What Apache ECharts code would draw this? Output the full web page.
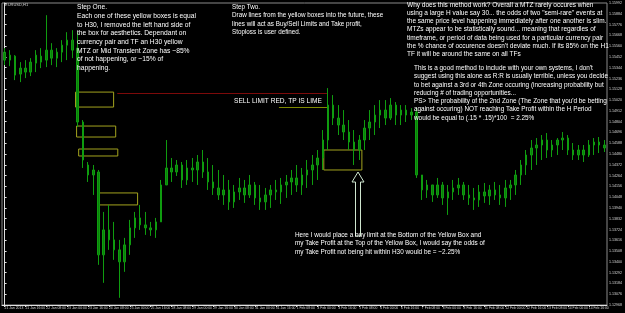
<!DOCTYPE html>
<html><head><meta charset="utf-8">
<script src="https://cdn.jsdelivr.net/npm/echarts@6/dist/echarts.min.js"></script>
<style>html,body{margin:0;padding:0;background:#000;}#c{width:625px;height:313px;}</style>
</head><body><div id="c"></div>
<script>
const timeLabels = ["21 Jan 2013","21 Jan 16:00","22 Jan 08:00","23 Jan 00:00","23 Jan 16:00","24 Jan 08:00","25 Jan 00:00","25 Jan 16:00","28 Jan 08:00","29 Jan 00:00","29 Jan 16:00","30 Jan 08:00","31 Jan 00:00","31 Jan 16:00","1 Feb 08:00","4 Feb 00:00","4 Feb 16:00","5 Feb 08:00","6 Feb 00:00","6 Feb 16:00","7 Feb 08:00","8 Feb 00:00","8 Feb 16:00","11 Feb 08:00","12 Feb 00:00","12 Feb 16:00","13 Feb 08:00","14 Feb 00:00","14 Feb 16:00"];
const openP = [1.1550,1.1542,1.1546,1.1528,1.1534,1.1530,1.1539,1.1546,1.1542,1.1552,
1.1544,1.1550,1.1557,1.1562,1.1554,1.1480,1.1437,1.1427,1.1430,1.1347,
1.1372,1.1362,1.1352,1.1340,1.1357,1.1374,1.1384,1.1377,1.1374,1.1372,
1.1380,1.1417,1.1434,1.1430,1.1437,1.1422,1.1434,1.1432,1.1440,1.1430,
1.1420,1.1414,1.1407,1.1412,1.1400,1.1410,1.1414,1.1407,1.1417,1.1404,
1.1400,1.1407,1.1412,1.1410,1.1417,1.1420,1.1424,1.1417,1.1427,1.1432,
1.1437,1.1444,1.1462,1.1497,1.1484,1.1477,1.1470,1.1460,1.1452,1.1462,
1.1474,1.1480,1.1487,1.1492,1.1484,1.1497,1.1487,1.1492,1.1487,1.1490,
1.1427,1.1412,1.1417,1.1407,1.1417,1.1404,1.1410,1.1414,1.1417,1.1407,
1.1404,1.1402,1.1410,1.1406,1.1412,1.1407,1.1404,1.1414,1.1417,1.1427,
1.1437,1.1447,1.1454,1.1457,1.1462,1.1452,1.1457,1.1462,1.1464,1.1452,
1.1447,1.1452,1.1447,1.1457,1.1460,1.1457];
const highP = [1.1554,1.1552,1.1547,1.1540,1.1542,1.1544,1.1552,1.1554,1.1587,1.1559,
1.1554,1.1562,1.1570,1.1572,1.1570,1.1482,1.1440,1.1437,1.1432,1.1390,
1.1397,1.1380,1.1362,1.1364,1.1382,1.1390,1.1397,1.1390,1.1380,1.1384,
1.1422,1.1462,1.1444,1.1442,1.1440,1.1442,1.1444,1.1447,1.1452,1.1444,
1.1437,1.1432,1.1427,1.1422,1.1417,1.1424,1.1422,1.1427,1.1420,1.1417,
1.1414,1.1417,1.1422,1.1424,1.1427,1.1432,1.1437,1.1434,1.1442,1.1447,
1.1452,1.1472,1.1514,1.1507,1.1497,1.1492,1.1482,1.1472,1.1467,1.1482,
1.1492,1.1497,1.1502,1.1502,1.1504,1.1500,1.1497,1.1497,1.1494,1.1494,
1.1427,1.1422,1.1417,1.1424,1.1420,1.1417,1.1422,1.1424,1.1420,1.1417,
1.1414,1.1417,1.1419,1.1417,1.1420,1.1417,1.1422,1.1422,1.1432,1.1442,
1.1452,1.1462,1.1464,1.1467,1.1469,1.1462,1.1464,1.1470,1.1467,1.1459,
1.1457,1.1457,1.1462,1.1464,1.1465,1.1462];
const lowP = [1.1537,1.1536,1.1522,1.1520,1.1524,1.1526,1.1530,1.1534,1.1535,1.1537,
1.1535,1.1540,1.1542,1.1544,1.1475,1.1434,1.1420,1.1407,1.1337,1.1319,
1.1352,1.1342,1.1304,1.1330,1.1347,1.1364,1.1372,1.1367,1.1366,1.1364,
1.1380,1.1417,1.1420,1.1426,1.1414,1.1417,1.1420,1.1417,1.1424,1.1412,
1.1407,1.1402,1.1397,1.1392,1.1394,1.1402,1.1399,1.1404,1.1397,1.1392,
1.1392,1.1394,1.1402,1.1398,1.1404,1.1407,1.1410,1.1407,1.1414,1.1417,
1.1422,1.1432,1.1452,1.1477,1.1467,1.1462,1.1452,1.1437,1.1442,1.1452,
1.1462,1.1467,1.1474,1.1477,1.1482,1.1477,1.1477,1.1480,1.1482,1.1424,
1.1402,1.1404,1.1400,1.1404,1.1397,1.1387,1.1402,1.1407,1.1402,1.1397,
1.1392,1.1395,1.1399,1.1397,1.1402,1.1397,1.1395,1.1402,1.1407,1.1417,
1.1427,1.1432,1.1437,1.1442,1.1444,1.1445,1.1447,1.1452,1.1447,1.1442,
1.1442,1.1440,1.1445,1.1447,1.1449,1.1450];
const closeP = [1.1542,1.1547,1.1527,1.1534,1.1530,1.1540,1.1547,1.1540,1.1552,1.1544,
1.1550,1.1557,1.1562,1.1552,1.1480,1.1442,1.1427,1.1432,1.1347,1.1372,
1.1362,1.1352,1.1340,1.1357,1.1374,1.1384,1.1377,1.1374,1.1372,1.1380,
1.1417,1.1434,1.1430,1.1437,1.1422,1.1434,1.1432,1.1440,1.1430,1.1420,
1.1414,1.1407,1.1412,1.1400,1.1410,1.1414,1.1407,1.1417,1.1404,1.1400,
1.1407,1.1412,1.1410,1.1417,1.1420,1.1424,1.1417,1.1427,1.1432,1.1437,
1.1444,1.1462,1.1497,1.1484,1.1477,1.1470,1.1460,1.1452,1.1462,1.1474,
1.1480,1.1487,1.1492,1.1484,1.1497,1.1487,1.1492,1.1487,1.1490,1.1427,
1.1412,1.1417,1.1407,1.1417,1.1404,1.1410,1.1414,1.1417,1.1407,1.1404,
1.1402,1.1410,1.1406,1.1412,1.1407,1.1404,1.1414,1.1417,1.1427,1.1437,
1.1447,1.1454,1.1457,1.1462,1.1452,1.1457,1.1462,1.1464,1.1452,1.1447,
1.1452,1.1447,1.1457,1.1460,1.1457,1.1454];
// annotation zones: [fromBar, toBar, topPrice, bottomPrice]
const zoneBoxes = [[13.6,20.9,1.1510,1.1495],[13.8,21.3,1.1476,1.1465],[14.2,21.7,1.1453,1.1446],[18.0,25.5,1.1409,1.1397],[61.2,68.5,1.1452,1.1432]];
// [fromBar, toBar, price]
const sellLimitLine = [21.6,61.8,1.1509];
const takeProfitLine = [52.6,61.8,1.1495];
const yMin = 112968, yMax = 115992, yStep = 108;

const pts = v => Math.round(v * 100000);
const n = openP.length;
const cats = openP.map((_, i) => String(i));
const candles = openP.map((o, i) => [pts(o), pts(closeP[i]), pts(lowP[i]), pts(highP[i])]);

const font = '"Liberation Sans", Arial, sans-serif';
const txt = (x, y, text, lh, fs) => ({type:'text', x:x, y:y, z:100, style:{text:text, fill:'#ffffff', font:fs + 'px ' + font, lineHeight:lh, verticalAlign:'top', align:'left'}});

const chart = echarts.init(document.getElementById('c'), null, {renderer:'canvas'});
chart.setOption({
  backgroundColor:'#000000',
  animation:false,
  grid:{left:2, right:16, top:3, bottom:8, show:true, borderColor:'#8a8a8a', borderWidth:1, backgroundColor:'#000'},
  xAxis:[{
    type:'category', data:cats, boundaryGap:true,
    axisLine:{show:true, lineStyle:{color:'#e0e0e0', width:1}},
    axisTick:{show:true, interval:3, alignWithLabel:true, length:2, lineStyle:{color:'#e0e0e0'}},
    axisLabel:{interval:3, color:'#d8d8d8', fontSize:3.4, fontFamily:font, margin:2, align:'left',
      formatter:(v, i) => (i % 4 === 0 ? timeLabels[i / 4] : '')},
    splitLine:{show:false}
  },{
    type:'value', min:-0.5, max:n - 0.5, show:false
  }],
  yAxis:{
    type:'value', position:'right', min:yMin, max:yMax, interval:yStep, scale:true,
    axisLine:{show:true, lineStyle:{color:'#e0e0e0', width:1}},
    axisTick:{show:true, length:2, lineStyle:{color:'#e0e0e0'}},
    axisLabel:{color:'#d8d8d8', fontSize:3.6, fontFamily:font, margin:2, formatter:v => (v / 100000).toFixed(5)},
    splitLine:{show:false}
  },
  series:[{
    type:'candlestick', data:candles, barWidth:2,
    itemStyle:{color:'#0a800a', color0:'#0a800a', borderColor:'#0f9c0f', borderColor0:'#0f9c0f', borderWidth:1}
  },{
    type:'line', xAxisIndex:1, yAxisIndex:0, data:[], silent:true,
    markArea:{silent:true, itemStyle:{color:'rgba(0,0,0,0)', borderColor:'#a3a31e', borderWidth:1},
      data: zoneBoxes.map(b => [{coord:[b[0], pts(b[2])]}, {coord:[b[1], pts(b[3])]}])},
    markLine:{silent:true, symbol:['none','none'], label:{show:false},
      data:[
        [{coord:[sellLimitLine[0], pts(sellLimitLine[2])], lineStyle:{color:'#7c0a0a', width:1, type:'solid'}}, {coord:[sellLimitLine[1], pts(sellLimitLine[2])]}],
        [{coord:[takeProfitLine[0], pts(takeProfitLine[2])], lineStyle:{color:'#7f8a00', width:1, type:'solid'}}, {coord:[takeProfitLine[1], pts(takeProfitLine[2])]}]
      ]}
  }],
  graphic:[
    {type:'text', x:5, y:3, z:100, style:{text:'EURUSD,H1', fill:'#cfcfcf', font:'4px ' + font, verticalAlign:'top'}},
    txt(77, 3, 'Step One.\nEach one of these yellow boxes is equal\nto H30, I removed the left hand side of\nthe box for aesthetics. Dependant on\ncurrency pair and TF an H30 yellow\nMTZ or Mid Transient Zone has ~85%\nof not happening, or ~15% of\nhappening.', 8.7, 6.7),
    txt(232, 3, 'Step Two.\nDraw lines from the yellow boxes into the future, these\nlines will act as Buy/Sell Limits and Take profit,\nStoploss is user defined.', 8.5, 6.3),
    txt(234, 97, 'SELL LIMIT RED, TP IS LIME', 8.5, 6.6),
    txt(407, 1, 'Why does this method work? Overall a MTZ rarely occures when\nusing a large H value say 30... the odds of two "semi-rare" events at\nthe same price level happening immediately after one another is slim.\nMTZs appear to be statistically sound... meaning that regardles of\ntimeframe, or period of data being used for a particular currency pair\nthe % chance of occurence doesn\'t deviate much. If its 85% on the H1\nTF it will be around the same on all TFs', 8.2, 6.5),
    txt(414, 64, 'This is a good method to include with your own systems, I don\'t\nsuggest using this alone as R:R is usually terrible, unless you decide\nto bet against a 3rd or 4th Zone occuring (increasing probability but\nreducing # of trading opportunities...\nPS> The probability of the 2nd Zone (The Zone that you\'d be betting\nagainst occuring) NOT reaching Take Profit within the H Period\nwould be equal to (.15 * .15)*100  = 2.25%', 8.3, 6.4),
    txt(295, 231, 'Here I would place a buy limit at the Bottom of the Yellow Box and\nmy Take Profit at the Top of the Yellow Box, I would say the odds of\nmy Take Profit not being hit within H30 would be = ~2.25%', 8.4, 6.4),
    {type:'polygon', z:90, shape:{points:[[358,172],[364,182],[360.5,182],[360.5,236],[355.5,236],[355.5,182],[352,182]]},
      style:{fill:'rgba(0,0,0,0)', stroke:'#cfe6cf', lineWidth:1}}
  ]
});
</script></body></html>
